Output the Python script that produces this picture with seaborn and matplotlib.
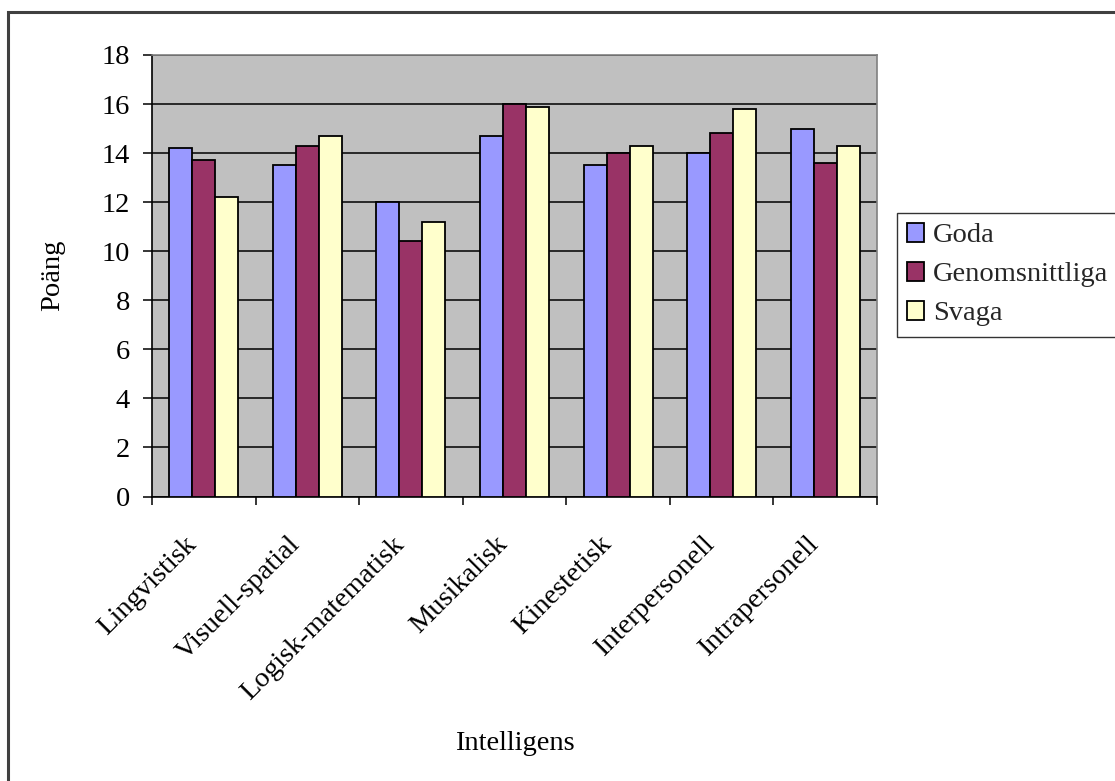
import matplotlib
matplotlib.use("Agg")
import matplotlib.pyplot as plt
import matplotlib.transforms as mtransforms
import seaborn as sns
import pandas as pd
from matplotlib.patches import Rectangle
from matplotlib.ticker import MultipleLocator, FixedLocator, NullFormatter

categories = ["Lingvistisk", "Visuell-spatial", "Logisk-matematisk", "Musikalisk",
              "Kinestetisk", "Interpersonell", "Intrapersonell"]
goda = [14.2, 13.5, 12.0, 14.7, 13.5, 14.0, 15.0]
genomsnittliga = [13.7, 14.3, 10.4, 16.0, 14.0, 14.8, 13.6]
svaga = [12.2, 14.7, 11.2, 15.9, 14.3, 15.8, 14.3]
groups = ["Goda", "Genomsnittliga", "Svaga"]
colors = ["#9999FF", "#993366", "#FFFFCC"]

df = pd.DataFrame({
    "Intelligens": categories * 3,
    "Poäng": goda + genomsnittliga + svaga,
    "Grupp": [g for g in groups for _ in categories],
})

sns.set_theme(style="white")
plt.rcParams["font.family"] = ["Liberation Serif", "DejaVu Serif"]
FS = 20.5

fig = plt.figure(figsize=(11.15, 7.81), dpi=100)
W, H = 1115, 781
ax = fig.add_axes([152 / W, 1 - 496.5 / H, 725 / W, 441.5 / H])
ax.set_facecolor("#C0C0C0")

sns.barplot(data=df, x="Intelligens", y="Poäng", hue="Grupp", order=categories,
            hue_order=groups, palette=colors, width=2 / 3, gap=0,
            edgecolor="black", linewidth=1.3, saturation=1, ax=ax, zorder=3)

ax.set_ylim(0, 18)
ax.set_xlim(-0.5, len(categories) - 0.5)
ax.yaxis.set_major_locator(MultipleLocator(2))
ax.grid(axis="y", color="black", linewidth=1.1, zorder=0)
ax.set_axisbelow(True)

for s in ["top", "right"]:
    ax.spines[s].set_color("#808080")
    ax.spines[s].set_linewidth(1.2)
for s in ["left", "bottom"]:
    ax.spines[s].set_color("black")
    ax.spines[s].set_linewidth(1.2)

ax.tick_params(axis="y", which="major", left=True, length=6.5, width=1.1,
               color="black", labelsize=FS, pad=9.5, direction="out")
ax.tick_params(axis="x", which="major", bottom=False, length=0, labelsize=FS,
               pad=48.5 * 72 / 100)
ax.xaxis.set_minor_locator(FixedLocator([i - 0.5 for i in range(len(categories) + 1)]))
ax.xaxis.set_minor_formatter(NullFormatter())
ax.tick_params(axis="x", which="minor", bottom=True, length=6, width=1.1,
               color="black", direction="out")

ax.set_xticks(range(len(categories)))
ax.set_xticklabels(categories, rotation=45, ha="right", va="baseline",
                   rotation_mode="anchor")
shift = mtransforms.ScaledTranslation(-6 / 100, 0, fig.dpi_scale_trans)
for lbl in ax.get_xticklabels():
    lbl.set_color("black")
    lbl.set_transform(lbl.get_transform() + shift)
for lbl in ax.get_yticklabels():
    lbl.set_color("black")

ax.set_xlabel("Intelligens", fontsize=FS, color="black")
ax.set_ylabel("Poäng", fontsize=FS, color="black")
ax.xaxis.set_label_coords(0.5, -(750 - 496.5) / 441.5)
ax.xaxis.label.set_va("baseline")
ax.yaxis.set_label_coords(-(152 - 53) / 725, 0.5)
ax.yaxis.label.set_va("center")

handles, labels = ax.get_legend_handles_labels()
if ax.get_legend():
    ax.get_legend().remove()
leg = fig.legend(handles, labels, loc="upper left",
                 bbox_to_anchor=(896.5 / W, 1 - 213 / H), frameon=True,
                 fontsize=FS, handlelength=0.62, handleheight=0.62,
                 handletextpad=0.3, labelspacing=0.48, borderpad=0.36,
                 borderaxespad=0, fancybox=False)
leg.get_frame().set_edgecolor("black")
leg.get_frame().set_linewidth(1.0)

# outer chart border (runs past the right and bottom edges)
fig.patches.append(Rectangle((7.5 / W, -0.05), 1.2, 1 - 12 / H + 0.05,
                             transform=fig.transFigure, fill=False,
                             edgecolor="#404040", linewidth=2.2))

fig.savefig("out.png", dpi=100, facecolor="white")
